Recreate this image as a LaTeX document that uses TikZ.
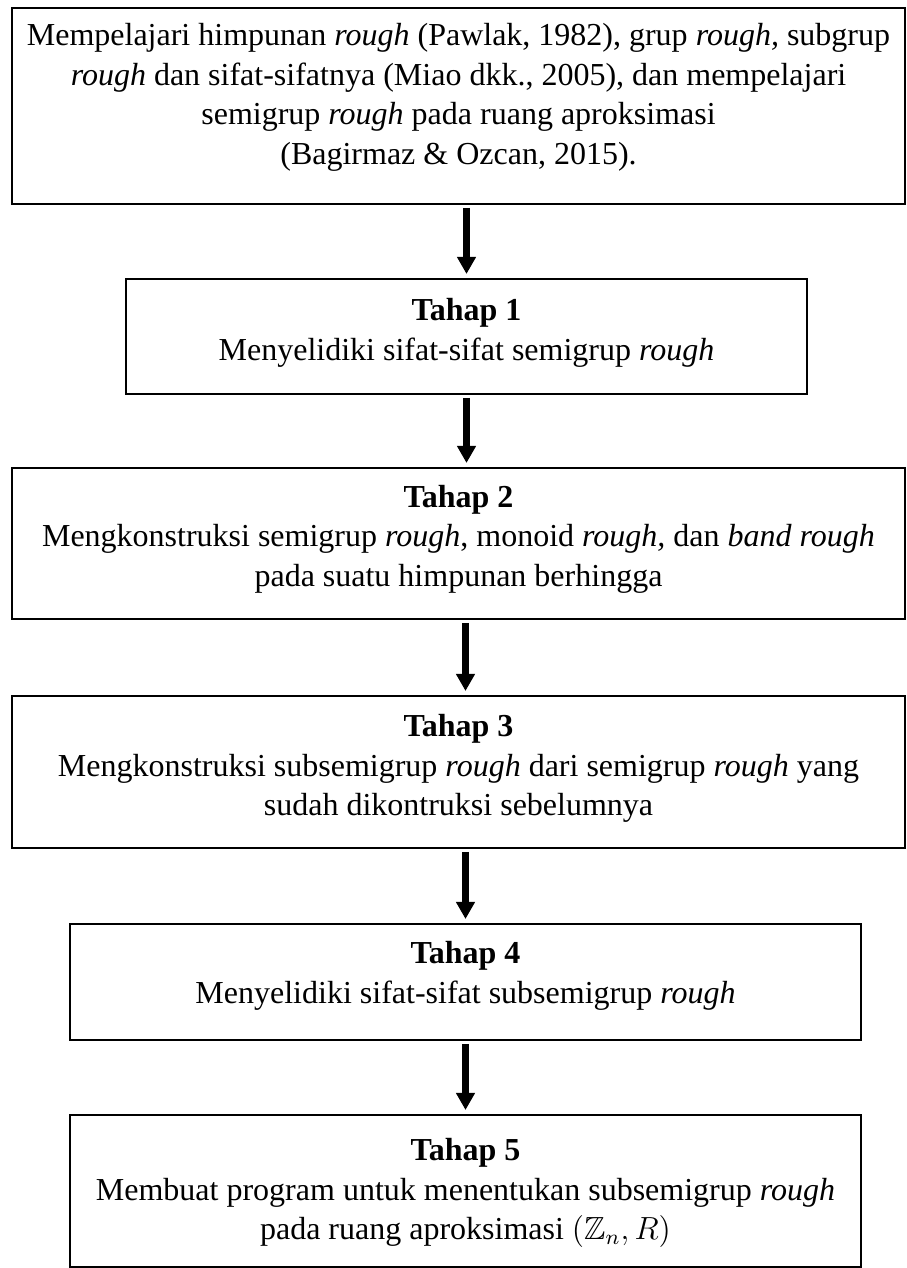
\documentclass[tikz,border=0pt]{standalone}
\usepackage{fontspec}
\setmainfont{Liberation Serif}
\usepackage{amssymb}
\usetikzlibrary{positioning,arrows.meta}

\begin{document}
\begin{tikzpicture}[x=0.375pt, y=-0.375pt,
  stagebox/.style={draw=black, line width=0.8pt, inner sep=0pt, anchor=north},
  stagetext/.style={align=center, inner sep=0pt, font=\fontsize{12}{14.8}\selectfont},
  flow/.style={line width=2.6pt, -{Triangle[length=6.4pt, width=6.75pt]},
    shorten <=1pt, shorten >=1.5pt}]

  % Canvas
  \useasboundingbox (0,0) rectangle (907,1268);

  % Intro box
  \node[stagebox, minimum width=334.875pt, minimum height=73.5pt] (intro) at (458.5,7) {};
  \node[stagetext, below=6pt of intro.north] (introtxt)
    {Mempelajari himpunan \textit{rough} (Pawlak, 1982), grup \textit{rough,} subgrup\\
     \textit{rough} dan sifat-sifatnya (Miao dkk., 2005), dan mempelajari\\
     semigrup \textit{rough} pada ruang aproksimasi\\
     (Bagirmaz \& Ozcan, 2015).};

  % Tahap 1
  \node[stagebox, minimum width=255.375pt, minimum height=43.125pt] (t1) at (466.5,278) {};
  \node[stagetext, below=7.6pt of t1.north] (t1txt)
    {\textbf{Tahap 1}\\
     Menyelidiki sifat-sifat semigrup \textit{rough}};

  % Tahap 2
  \node[stagebox, minimum width=334.875pt, minimum height=56.625pt] (t2) at (458.5,467) {};
  \node[stagetext, below=6.6pt of t2.north] (t2txt)
    {\textbf{Tahap 2}\\
     Mengkonstruksi semigrup \textit{rough}, monoid \textit{rough,} dan \textit{band rough}\\
     pada suatu himpunan berhingga};

  % Tahap 3
  \node[stagebox, minimum width=334.875pt, minimum height=57pt] (t3) at (458.5,695) {};
  \node[stagetext, below=7.2pt of t3.north] (t3txt)
    {\textbf{Tahap 3}\\
     Mengkonstruksi subsemigrup \textit{rough} dari semigrup \textit{rough} yang\\
     sudah dikontruksi sebelumnya};

  % Tahap 4
  \node[stagebox, minimum width=296.625pt, minimum height=43.5pt] (t4) at (465.5,923) {};
  \node[stagetext, below=6.7pt of t4.north] (t4txt)
    {\textbf{Tahap 4}\\
     Menyelidiki sifat-sifat subsemigrup \textit{rough}};

  % Tahap 5
  \node[stagebox, minimum width=296.625pt, minimum height=57pt] (t5) at (465.5,1114) {};
  \node[stagetext, below=9pt of t5.north] (t5txt)
    {\textbf{Tahap 5}\\
     Membuat program untuk menentukan subsemigrup \textit{rough}\\
     pada ruang aproksimasi $(\mathbb{Z}_n, R)$};

  % Arrows between stages
  \draw[flow] (intro.south -| t1.north) -- (t1.north);
  \draw[flow] (t1.south) -- (t2.north -| t1.south);
  \draw[flow] (t2.south -| t4.north) -- (t3.north -| t4.north);
  \draw[flow] (t3.south -| t4.north) -- (t4.north);
  \draw[flow] (t4.south) -- (t5.north);

\end{tikzpicture}
\end{document}
